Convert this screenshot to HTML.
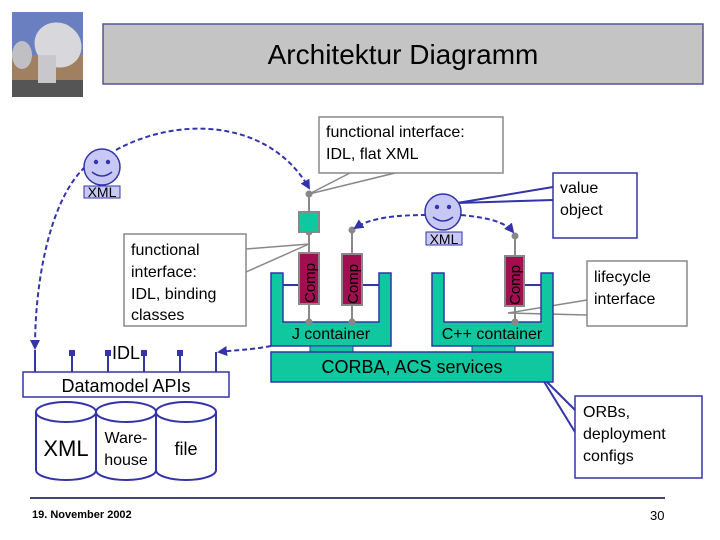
<!DOCTYPE html>
<html><head><meta charset="utf-8"><style>
html,body{margin:0;padding:0;background:#fff;}
svg{display:block;font-family:"Liberation Sans",sans-serif;}
</style></head><body>
<svg width="720" height="540" viewBox="0 0 720 540" xmlns="http://www.w3.org/2000/svg">
<defs>
<marker id="ar" markerWidth="10" markerHeight="10" refX="8" refY="5" orient="auto" markerUnits="userSpaceOnUse"><path d="M0,0 L10,5 L0,10 z" fill="#3333aa"/></marker>
</defs>
<!-- image -->
<rect x="12" y="12" width="71" height="85" fill="#6a7fc0"/>
<rect x="12" y="55" width="71" height="42" fill="#a08060"/>
<rect x="12" y="80" width="71" height="17" fill="#555"/>
<ellipse cx="58" cy="45" rx="24" ry="22" fill="#d8d8dc" transform="rotate(30 58 45)"/>
<rect x="38" y="55" width="18" height="28" fill="#c8c8cc"/>
<ellipse cx="22" cy="55" rx="10" ry="14" fill="#c0c0c4"/>
<!-- title -->
<rect x="103" y="24" width="600" height="60" fill="#c4c4c4" stroke="#55559a" stroke-width="1.5"/>
<text x="403" y="64" font-size="28" text-anchor="middle">Architektur Diagramm</text>

<!-- callout top -->
<line x1="309" y1="194" x2="350" y2="173" stroke="#888" stroke-width="1.5"/>
<line x1="309" y1="194" x2="395" y2="173" stroke="#888" stroke-width="1.5"/>
<rect x="319" y="117" width="184" height="56" fill="#fff" stroke="#888" stroke-width="1.5"/>
<text x="326" y="137" font-size="16">functional interface:</text>
<text x="326" y="159" font-size="16">IDL, flat XML</text>

<!-- callout binding classes -->
<line x1="309" y1="244" x2="246" y2="249" stroke="#888" stroke-width="1.5"/>
<line x1="309" y1="244" x2="246" y2="272" stroke="#888" stroke-width="1.5"/>
<rect x="124" y="234" width="122" height="92" fill="#fff" stroke="#888" stroke-width="1.5"/>
<g font-size="16"><text x="131" y="255">functional</text><text x="131" y="277">interface:</text><text x="131" y="299">IDL, binding</text><text x="131" y="320">classes</text></g>

<!-- value object -->
<line x1="457" y1="203" x2="553" y2="187" stroke="#3333aa" stroke-width="2"/>
<line x1="457" y1="203" x2="553" y2="200" stroke="#3333aa" stroke-width="2"/>
<rect x="553" y="173" width="84" height="65" fill="#fff" stroke="#3333aa" stroke-width="1.5"/>
<text x="560" y="193" font-size="16">value</text><text x="560" y="215" font-size="16">object</text>

<!-- lifecycle -->
<line x1="508" y1="313" x2="587" y2="300" stroke="#888" stroke-width="1.5"/>
<line x1="508" y1="313" x2="587" y2="315" stroke="#888" stroke-width="1.5"/>
<rect x="587" y="261" width="100" height="65" fill="#fff" stroke="#888" stroke-width="1.5"/>
<text x="594" y="282" font-size="16">lifecycle</text><text x="594" y="304" font-size="16">interface</text>

<!-- ORBs -->
<line x1="540" y1="375" x2="575" y2="410" stroke="#3333aa" stroke-width="2"/>
<line x1="540" y1="375" x2="575" y2="432" stroke="#3333aa" stroke-width="2"/>
<rect x="575" y="396" width="127" height="82" fill="#fff" stroke="#3333aa" stroke-width="1.5"/>
<g font-size="16"><text x="583" y="417">ORBs,</text><text x="583" y="439">deployment</text><text x="583" y="461">configs</text></g>

<!-- containers -->
<path d="M271,273 H283 V322 H379 V273 H391 V346 H271 Z" fill="#10c8a0" stroke="#3333aa" stroke-width="1.5"/>
<path d="M432,273 H444 V322 H541 V273 H553 V346 H432 Z" fill="#10c8a0" stroke="#3333aa" stroke-width="1.5"/>
<rect x="310" y="346" width="43" height="6" fill="#10c8a0" stroke="#3333aa" stroke-width="1"/>
<rect x="472" y="346" width="43" height="6" fill="#10c8a0" stroke="#3333aa" stroke-width="1"/>
<rect x="271" y="352" width="282" height="30" fill="#10c8a0" stroke="#3333aa" stroke-width="1.5"/>
<text x="331" y="339" font-size="16" text-anchor="middle">J container</text>
<text x="492" y="339" font-size="16" text-anchor="middle">C++ container</text>
<text x="412" y="373" font-size="18" text-anchor="middle">CORBA, ACS services</text>

<!-- connectors wall to comp -->
<g stroke="#3333aa" stroke-width="2">
<line x1="283" y1="285" x2="299" y2="285"/><line x1="362" y1="285" x2="379" y2="285"/><line x1="524" y1="285" x2="541" y2="285"/>
</g>
<!-- vertical gray lines -->
<g stroke="#888" stroke-width="2">
<line x1="309" y1="194" x2="309" y2="322"/><line x1="352" y1="230" x2="352" y2="322"/><line x1="515" y1="236" x2="515" y2="322"/>
</g>
<g fill="#888"><circle cx="309" cy="194" r="3.5"/><circle cx="309" cy="232" r="3.5"/><circle cx="309" cy="322" r="3.5"/><circle cx="352" cy="230" r="3.5"/><circle cx="352" cy="322" r="3.5"/><circle cx="515" cy="236" r="3.5"/><circle cx="515" cy="322" r="3.5"/></g>
<rect x="299" y="212" width="20" height="20" fill="#10c8a0" stroke="#888" stroke-width="2"/>
<g fill="#a01050" stroke="#888" stroke-width="2">
<rect x="299" y="253" width="20" height="51"/><rect x="342" y="254" width="20" height="51"/><rect x="505" y="256" width="19" height="50"/>
</g>
<g font-size="15" fill="#000">
<text transform="translate(315 303) rotate(-90)">Comp</text>
<text transform="translate(358 304) rotate(-90)">Comp</text>
<text transform="translate(520 305) rotate(-90)">Comp</text>
</g>

<!-- dashed -->
<g fill="none" stroke="#3333aa" stroke-width="2" stroke-dasharray="5,3">
<path d="M116,150 C180,115 270,120 309,188" marker-end="url(#ar)"/>
<path d="M85,167 C50,200 35,280 35,348" marker-end="url(#ar)"/>
<path d="M426,215 C395,215 370,218 355,228" marker-end="url(#ar)"/>
<path d="M461,215 C490,218 505,222 513,232" marker-end="url(#ar)"/>
<path d="M271,346 C250,350 235,350 219,352" marker-end="url(#ar)"/>
</g>

<!-- smileys -->
<g stroke="#3333aa" stroke-width="1.5">
<circle cx="102" cy="167" r="18" fill="#c8c8f4"/>
<circle cx="443" cy="212" r="18" fill="#c8c8f4"/>
</g>
<g fill="#3333aa"><circle cx="96" cy="162" r="2.2"/><circle cx="108" cy="162" r="2.2"/><circle cx="437" cy="207" r="2.2"/><circle cx="449" cy="207" r="2.2"/></g>
<g fill="none" stroke="#3333aa" stroke-width="1.5"><path d="M92,172 Q102,180 112,172"/><path d="M433,217 Q443,225 453,217"/></g>
<rect x="84" y="186" width="36" height="12" fill="#c8c8f4" stroke="#3333aa"/>
<text x="102" y="197" font-size="14" text-anchor="middle">XML</text>
<rect x="426" y="232" width="36" height="13" fill="#c8c8f4" stroke="#3333aa"/>
<text x="444" y="244" font-size="14" text-anchor="middle">XML</text>

<!-- IDL pins -->
<g stroke="#3333aa" stroke-width="2">
<line x1="35" y1="350" x2="35" y2="372"/><line x1="72" y1="352" x2="72" y2="372"/><line x1="108" y1="352" x2="108" y2="372"/><line x1="144" y1="352" x2="144" y2="372"/><line x1="180" y1="352" x2="180" y2="372"/><line x1="216" y1="352" x2="216" y2="372"/>
</g>
<g fill="#3333aa"><rect x="69" y="350" width="6" height="6"/><rect x="105" y="350" width="6" height="6"/><rect x="141" y="350" width="6" height="6"/><rect x="177" y="350" width="6" height="6"/></g>
<text x="126" y="359" font-size="18" text-anchor="middle">IDL</text>
<rect x="23" y="372" width="206" height="25" fill="#fff" stroke="#3333aa" stroke-width="1.5"/>
<text x="126" y="392" font-size="18" text-anchor="middle">Datamodel APIs</text>

<!-- cylinders -->
<g fill="#fff" stroke="#3333aa" stroke-width="2">
<path d="M36,412 V470 A30,10 0 0 0 96,470 V412"/>
<ellipse cx="66" cy="412" rx="30" ry="10"/>
<path d="M96,412 V470 A30,10 0 0 0 156,470 V412"/>
<ellipse cx="126" cy="412" rx="30" ry="10"/>
<path d="M156,412 V470 A30,10 0 0 0 216,470 V412"/>
<ellipse cx="186" cy="412" rx="30" ry="10"/>
</g>
<text x="66" y="456" font-size="22" text-anchor="middle">XML</text>
<text x="126" y="443" font-size="16" text-anchor="middle">Ware-</text>
<text x="126" y="465" font-size="16" text-anchor="middle">house</text>
<text x="186" y="455" font-size="18" text-anchor="middle">file</text>

<!-- footer -->
<line x1="30" y1="498" x2="665" y2="498" stroke="#444477" stroke-width="2"/>
<text x="32" y="518" font-size="11" font-weight="bold">19. November 2002</text>
<text x="650" y="520" font-size="13">30</text>
</svg>
</body></html>
